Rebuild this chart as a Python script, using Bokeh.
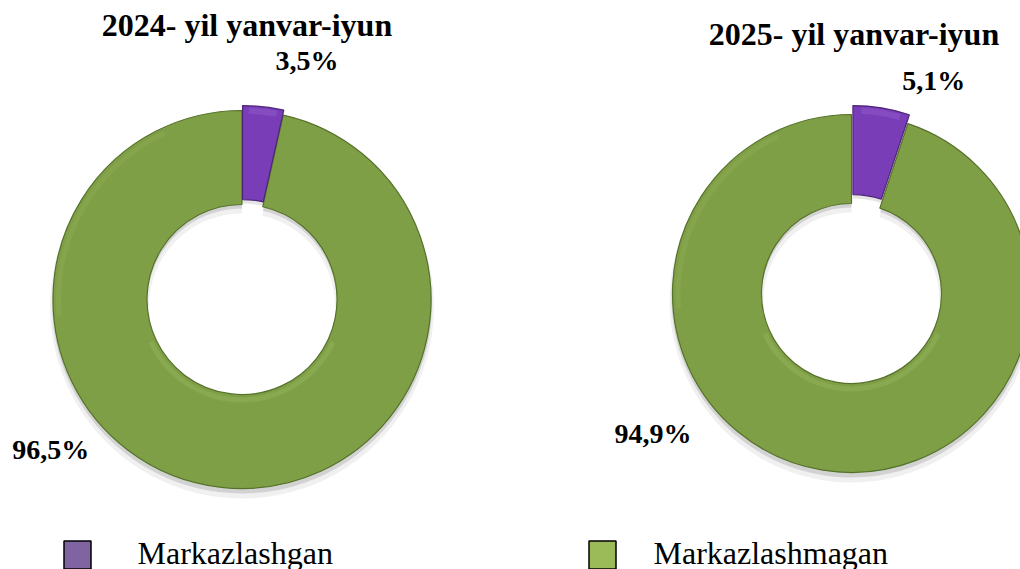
import math
from bokeh.plotting import figure
from bokeh.models import Range1d
from bokeh.embed import file_html
from bokeh.resources import INLINE
from bokeh.core.properties import value

# ---------------- data ----------------
periods = ["2024- yil yanvar-iyun", "2025- yil yanvar-iyun"]
categories = ["Markazlashgan", "Markazlashmagan"]
markazlashgan = [3.5, 5.1]
markazlashmagan = [96.5, 94.9]

# ---------------- styles / layout ----------------
slice_colors = ["#7A3DB8", "#7F9F46"]
slice_edges = ["#4E2478", "#55722A"]
legend_colors = ["#8064A2", "#9BBB59"]
FONT = "Liberation Serif"

W, H = 1020, 569
TEXT_DY = 12  # empirical correction of text baseline placement


def X(rx):
    return rx


def Y(ry):
    return H - ry


def YT(ry):
    return H - ry + TEXT_DY


centers = [(241.5, 299.0), (851.0, 293.0)]
outer_r = [189, 179]
inner_r = [95, 90]
explode = [5, 9]
title_pos = [(246.5, 36), (853.5, 45)]
small_lab_pos = [(275, 72), (901.7, 91.7)]
big_lab_pos = [(11.7, 460.7), (614, 445)]
legend_sq = [(77, 554.5), (602, 554.5)]
legend_txt = [(137, 564), (653, 564)]


def fmt(v):
    return ("%.1f" % v).replace(".", ",") + "%"


p = figure(width=W, height=H, x_range=Range1d(0, W), y_range=Range1d(0, H),
           x_axis_type=None, y_axis_type=None, toolbar_location=None,
           output_backend="svg", min_border=0, outline_line_color=None,
           background_fill_color="white", border_fill_color="white")
p.grid.visible = False

for i in range(2):
    cx, cy = X(centers[i][0]), Y(centers[i][1])
    R, r = outer_r[i], inner_r[i]
    theta = math.radians(360.0 * markazlashgan[i] / 100.0)
    top = math.pi / 2
    mid = top - theta / 2
    ex, ey = explode[i] * math.cos(mid), explode[i] * math.sin(mid)

    # soft shadows
    p.annular_wedge(x=[cx], y=[cy - 7], inner_radius=r - 2, outer_radius=R + 3,
                    start_angle=top, end_angle=top - theta, direction="anticlock",
                    fill_color="#000000", fill_alpha=0.06, line_color=None)
    p.annular_wedge(x=[cx], y=[cy - 4], inner_radius=r, outer_radius=R + 1,
                    start_angle=top, end_angle=top - theta, direction="anticlock",
                    fill_color="#000000", fill_alpha=0.12, line_color=None)
    p.annular_wedge(x=[cx + ex], y=[cy + ey - 4], inner_radius=r, outer_radius=R + 1,
                    start_angle=top - theta, end_angle=top, direction="anticlock",
                    fill_color="#000000", fill_alpha=0.10, line_color=None)

    # green (Markazlashmagan) slice: clockwise from top, after purple
    p.annular_wedge(x=[cx], y=[cy], inner_radius=r, outer_radius=R,
                    start_angle=top, end_angle=top - theta, direction="anticlock",
                    fill_color=slice_colors[1], line_color=slice_edges[1], line_width=1.2)
    # bevel highlights
    p.annular_wedge(x=[cx], y=[cy], inner_radius=r + 3, outer_radius=r + 8,
                    start_angle=math.radians(205), end_angle=math.radians(335),
                    fill_color="#B5D07C", fill_alpha=0.2, line_color=None)
    p.annular_wedge(x=[cx], y=[cy], inner_radius=R - 8, outer_radius=R - 3,
                    start_angle=math.radians(115), end_angle=math.radians(185),
                    fill_color="#B5D07C", fill_alpha=0.12, line_color=None)

    # purple (Markazlashgan) slice, exploded along its bisector
    p.annular_wedge(x=[cx + ex], y=[cy + ey], inner_radius=r, outer_radius=R,
                    start_angle=top - theta, end_angle=top, direction="anticlock",
                    fill_color=slice_colors[0], line_color=slice_edges[0], line_width=1.2)
    p.annular_wedge(x=[cx + ex], y=[cy + ey], inner_radius=R - 8, outer_radius=R - 2,
                    start_angle=top - theta * 0.85, end_angle=top - theta * 0.15,
                    direction="anticlock",
                    fill_color="#A57BD8", fill_alpha=0.25, line_color=None)

# titles
p.text(x=[X(t[0]) for t in title_pos], y=[YT(t[1]) for t in title_pos], text=periods,
       text_align="center", text_baseline="alphabetic", text_font=value(FONT),
       text_font_style="bold", text_font_size="32px", text_color="black")

# data labels
p.text(x=[X(t[0]) for t in small_lab_pos], y=[YT(t[1]) for t in small_lab_pos],
       text=[fmt(v) for v in markazlashgan],
       text_align="left", text_baseline="alphabetic", text_font=value(FONT),
       text_font_style="bold", text_font_size="28px", text_color="black")
p.text(x=[X(t[0]) for t in big_lab_pos], y=[YT(t[1]) for t in big_lab_pos],
       text=[fmt(v) for v in markazlashmagan],
       text_align="left", text_baseline="alphabetic", text_font=value(FONT),
       text_font_style="bold", text_font_size="28px", text_color="black")

# legend
p.rect(x=[X(s[0]) for s in legend_sq], y=[Y(s[1]) for s in legend_sq], width=27, height=28,
       fill_color=legend_colors, line_color="black", line_width=1.5)
p.text(x=[X(t[0]) for t in legend_txt], y=[YT(t[1]) for t in legend_txt], text=categories,
       text_align="left", text_baseline="alphabetic", text_font=value(FONT),
       text_font_size="32px", text_color="black")

open("out.html", "w").write(file_html(p, INLINE))
